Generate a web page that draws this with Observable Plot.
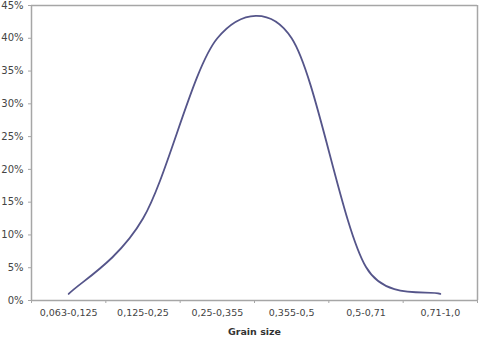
<!DOCTYPE html>
<html>
<head>
<meta charset="utf-8">
<script src="https://cdn.jsdelivr.net/npm/d3@7"></script>
<script src="https://cdn.jsdelivr.net/npm/@observablehq/plot@0.6"></script>
<style>
  html, body { margin: 0; padding: 0; background: #fff; }
</style>
</head>
<body>
<div id="chart"></div>
<script>
const categories = ["0,063-0,125", "0,125-0,25", "0,25-0,355", "0,355-0,5", "0,5-0,71", "0,71-1,0"];
const values = [0.01, 0.125, 0.40, 0.40, 0.051, 0.01];
const yTicks = [0, 0.05, 0.10, 0.15, 0.20, 0.25, 0.30, 0.35, 0.40, 0.45];
const xLabel = "Grain size";

const data = categories.map((c, i) => ({i, c, v: values[i]}));
const idx = categories.map((c, i) => i);
const bounds = d3.range(-0.5, categories.length, 1);

// Spreadsheet-style smoothed line (Bezier segments with limited control arms)
function excelCurve(context) {
  let xs, ys, line;
  return {
    areaStart() { line = 0; },
    areaEnd() { line = NaN; },
    lineStart() { xs = []; ys = []; },
    point(x, y) { xs.push(+x); ys.push(+y); },
    lineEnd() {
      const n = xs.length;
      if (!n) return;
      if (line) context.lineTo(xs[0], ys[0]); else context.moveTo(xs[0], ys[0]);
      const dist = (a, b) => Math.hypot(xs[a] - xs[b], ys[a] - ys[b]);
      for (let i = 0; i < n - 1; ++i) {
        const i0 = i > 0 ? i - 1 : i, i1 = i, i2 = i + 1, i3 = i + 2 < n ? i + 2 : i + 1;
        const d12 = dist(i1, i2), d02 = dist(i0, i2), d13 = dist(i1, i3);
        const f1 = d02 / 6 < d12 / 2 ? 1 / 6 : d12 / (2 * d02);
        const f2 = d13 / 6 < d12 / 2 ? 1 / 6 : d12 / (2 * d13);
        context.bezierCurveTo(
          xs[i1] + (xs[i2] - xs[i0]) * f1, ys[i1] + (ys[i2] - ys[i0]) * f1,
          xs[i2] - (xs[i3] - xs[i1]) * f2, ys[i2] - (ys[i3] - ys[i1]) * f2,
          xs[i2], ys[i2]
        );
      }
      line = 1 - line;
    }
  };
}

const grid = "#a6a6a6";

const chart = Plot.plot({
  width: 480,
  height: 340,
  marginLeft: 31,
  marginRight: 3,
  marginTop: 5,
  marginBottom: 40,
  x: {domain: [-0.5, categories.length - 0.5]},
  y: {domain: [0, 0.45]},
  style: {fontFamily: "DejaVu Sans, Verdana, sans-serif", fontSize: "10px", color: "#444", background: "#fff"},
  marks: [
    Plot.ruleY([0.45], {stroke: grid, strokeWidth: 1.5}),
    Plot.ruleX([categories.length - 0.5], {stroke: grid, strokeWidth: 1.5}),
    Plot.ruleX([-0.5], {stroke: grid, strokeWidth: 1.5}),
    Plot.ruleY([0], {stroke: grid, strokeWidth: 1.5}),
    Plot.axisY({ticks: yTicks, tickFormat: d => Math.round(d * 100) + "%", tickSize: 3, tickPadding: 5, stroke: grid, label: null, fill: "#444"}),
    Plot.axisX({ticks: bounds, tickFormat: () => "", tickSize: 3, stroke: grid, label: null}),
    Plot.axisX({ticks: idx, tickFormat: i => categories[i], tickSize: 0, tickPadding: 9, label: null, fontSize: 9.5, fill: "#444"}),
    Plot.text([xLabel], {frameAnchor: "bottom", dy: 34, fontWeight: "bold", fontSize: 9.5, fill: "#333"}),
    Plot.line(data, {x: "i", y: "v", curve: excelCurve, stroke: "#55558a", strokeWidth: 1.8})
  ]
});
document.getElementById("chart").appendChild(chart);
</script>
</body>
</html>
